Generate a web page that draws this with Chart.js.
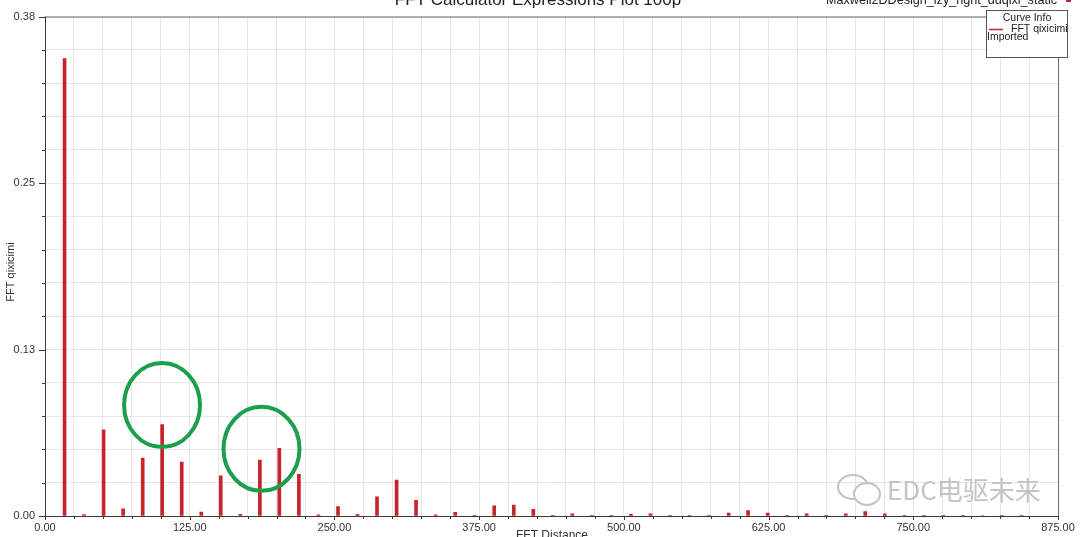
<!DOCTYPE html>
<html>
<head>
<meta charset="utf-8">
<script src="https://cdn.jsdelivr.net/npm/chart.js@4.4.0/dist/chart.umd.min.js"></script>
<style>
    body { margin: 0; background: #fff; }
    #wrap { width: 1080px; height: 537px; position: relative; }
</style>
</head>
<body>
<div id="wrap"><canvas id="fft-chart"></canvas></div>
<script>
// harmonic positions (FFT Distance)
var distances = [16.9, 33.7, 50.6, 67.5, 84.4, 101.2, 118.1, 135.0, 151.8, 168.7,
    185.6, 202.4, 219.3, 236.2, 253.1, 269.9, 286.8, 303.7, 320.5, 337.4,
    354.3, 371.1, 388.0, 404.9, 421.8, 438.6, 455.5, 472.4, 489.2, 506.1,
    523.0, 539.8, 556.7, 573.6, 590.5, 607.3, 624.2, 641.1, 657.9, 674.8,
    691.7, 708.5, 725.4, 742.3, 759.2, 776.0, 792.9, 809.8, 826.6, 843.5];
// FFT qixicimi amplitudes
var amplitudes = [0.348, 0.001, 0.0655, 0.0055, 0.044, 0.0695, 0.041, 0.003, 0.0305, 0.0012,
    0.0425, 0.0515, 0.0318, 0.0008, 0.0071, 0.0013, 0.0145, 0.0273, 0.012, 0.0008,
    0.0028, 0.0003, 0.0078, 0.0083, 0.005, 0.0003, 0.0016, 0.0002, 0.0002, 0.0012,
    0.0016, 0.0002, 0.0006, 0.0002, 0.0023, 0.0042, 0.0023, 0.0005, 0.0017, 0.0005,
    0.0017, 0.0034, 0.0017, 0.0002, 0.0005, 0.0002, 0.0005, 0.0004, 0.0002, 0.0002];

var xMax = 875;
var yMax = 0.38;
var yTickLabels = ["0.00", "0.13", "0.25", "0.38"];

// green marks drawn over the plot
var circleX = [101.1, 187.0];
var circleY = [0.0844, 0.0511];

var decorations = {
    id: 'decorations',
    afterDatasetsDraw: function(chart) {
        var ctx = chart.ctx;
        var area = chart.chartArea;
        var xs = chart.scales.x;
        var ys = chart.scales.y;
        ctx.save();

        // plot frame
        ctx.strokeStyle = '#6b6b6b';
        ctx.lineWidth = 1;
        ctx.beginPath();
        ctx.moveTo(area.left + 0.5, area.top + 0.5);
        ctx.lineTo(area.right + 0.5, area.top + 0.5);
        ctx.lineTo(area.right + 0.5, area.bottom + 0.5);
        ctx.stroke();
        ctx.strokeStyle = '#3a3a3a';
        ctx.beginPath();
        ctx.moveTo(area.left + 0.5, area.top);
        ctx.lineTo(area.left + 0.5, area.bottom + 0.5);
        ctx.lineTo(area.right + 0.5, area.bottom + 0.5);
        ctx.stroke();

        // tick marks
        ctx.strokeStyle = '#3a3a3a';
        ys.ticks.forEach(function(t, i) {
            var py = Math.round(ys.getPixelForValue(t.value)) + 0.5;
            var len = i % 5 === 0 ? 6 : 3;
            ctx.beginPath();
            ctx.moveTo(area.left - len, py);
            ctx.lineTo(area.left, py);
            ctx.stroke();
        });
        xs.ticks.forEach(function(t) {
            var px = Math.round(xs.getPixelForValue(t.value)) + 0.5;
            var len = t.value % 125 === 0 ? 4 : 3;
            ctx.beginPath();
            ctx.moveTo(px, area.bottom);
            ctx.lineTo(px, area.bottom + len);
            ctx.stroke();
        });

        // circles
        ctx.strokeStyle = '#1c9f4c';
        ctx.lineWidth = 4;
        for (var i = 0; i < circleX.length; i++) {
            ctx.beginPath();
            ctx.ellipse(xs.getPixelForValue(circleX[i]), ys.getPixelForValue(circleY[i]), 38, 42, 0, 0, Math.PI * 2);
            ctx.stroke();
        }

        // titles
        ctx.fillStyle = '#222';
        ctx.textBaseline = 'alphabetic';
        ctx.textAlign = 'center';
        ctx.font = '17px "Liberation Sans", Arial, sans-serif';
        ctx.fillText('FFT Calculator Expressions Plot 100p', 538, 5);
        ctx.textAlign = 'right';
        ctx.font = '12.6px "Liberation Sans", Arial, sans-serif';
        ctx.fillText('Maxwell2DDesign_lzy_right_duqixi_static', 1057, 4);
        ctx.fillStyle = '#c9262c';
        ctx.fillRect(1066, 0, 5, 2);
        ctx.fillStyle = '#333';
        ctx.textAlign = 'center';
        ctx.textBaseline = 'top';
        ctx.font = '12px "Liberation Sans", Arial, sans-serif';
        ctx.fillText('FFT Distance', 552, 530);
        ctx.save();
        ctx.translate(11, 272);
        ctx.rotate(-Math.PI / 2);
        ctx.textBaseline = 'middle';
        ctx.font = '11px "Liberation Sans", Arial, sans-serif';
        ctx.fillText('FFT qixicimi', 0, 0);
        ctx.restore();

        // curve info box
        var bx = 986, by = 10, bw = 81, bh = 47;
        ctx.fillStyle = '#fff';
        ctx.fillRect(bx, by, bw, bh);
        ctx.strokeStyle = '#555';
        ctx.lineWidth = 1;
        ctx.strokeRect(bx + 0.5, by + 0.5, bw, bh);
        ctx.fillStyle = '#222';
        ctx.font = '10.5px "Liberation Sans", Arial, sans-serif';
        ctx.textBaseline = 'alphabetic';
        ctx.textAlign = 'center';
        ctx.fillText('Curve Info', bx + 41, by + 11);
        ctx.strokeStyle = '#c9262c';
        ctx.lineWidth = 1.5;
        ctx.beginPath();
        ctx.moveTo(bx + 3, by + 19.5);
        ctx.lineTo(bx + 17, by + 19.5);
        ctx.stroke();
        ctx.textAlign = 'left';
        ctx.fillText(chart.data.datasets[0].label, bx + 25, by + 22);
        ctx.fillText('Imported', bx + 1, by + 30);

        // watermark
        ctx.strokeStyle = '#c2c2c2';
        ctx.lineWidth = 2;
        ctx.beginPath();
        ctx.ellipse(853, 487, 15, 12, 0, 0, Math.PI * 2);
        ctx.stroke();
        ctx.fillStyle = '#fff';
        ctx.beginPath();
        ctx.ellipse(867, 494, 13, 11, 0, 0, Math.PI * 2);
        ctx.fill();
        ctx.stroke();
        ctx.fillStyle = '#c4c4c4';
        ctx.font = '26px "Noto Sans CJK SC", "Noto Sans", sans-serif';
        ctx.textBaseline = 'middle';
        ctx.fillText('EDC电驱未来', 887, 490);

        ctx.restore();
    }
};

var config = {
    type: 'bar',
    data: {
        datasets: [{
            label: 'FFT qixicimi',
            data: distances.map(function(d, i) { return { x: d, y: amplitudes[i] }; }),
            backgroundColor: '#c6232a',
            barThickness: 3
        }]
    },
    options: {
        responsive: true,
        maintainAspectRatio: false,
        animation: false,
        layout: { padding: { top: 14, right: 22, left: 0, bottom: 0 } },
        plugins: {
            legend: { display: false },
            tooltip: { enabled: false }
        },
        scales: {
            x: {
                type: 'linear',
                min: 0,
                max: xMax,
                offset: false,
                grid: { offset: false, color: '#e6e6e6', drawTicks: false },
                border: { display: false },
                ticks: {
                    stepSize: 25,
                    autoSkip: false,
                    maxRotation: 0,
                    padding: 5,
                    color: '#333',
                    font: { family: '"Liberation Sans", Arial, sans-serif', size: 11 },
                    callback: function(value) {
                        return value % 125 === 0 ? value.toFixed(2) : '';
                    }
                },
                afterFit: function(scale) { scale.height = 21; }
            },
            y: {
                min: 0,
                max: yMax,
                grid: { color: '#e6e6e6', drawTicks: false },
                border: { display: false },
                ticks: {
                    autoSkip: false,
                    padding: 10,
                    color: '#333',
                    font: { family: '"Liberation Sans", Arial, sans-serif', size: 11 },
                    callback: function(value, index) {
                        return index % 5 === 0 ? yTickLabels[index / 5] : '';
                    }
                },
                afterBuildTicks: function(scale) {
                    var ticks = [];
                    for (var i = 0; i <= 15; i++) {
                        ticks.push({ value: yMax * i / 15 });
                    }
                    scale.ticks = ticks;
                },
                afterFit: function(scale) { scale.width = 45; }
            }
        }
    },
    plugins: [decorations]
};

var ctx = document.getElementById("fft-chart").getContext("2d");
window.fftChart = new Chart(ctx, config);
</script>
</body>
</html>
